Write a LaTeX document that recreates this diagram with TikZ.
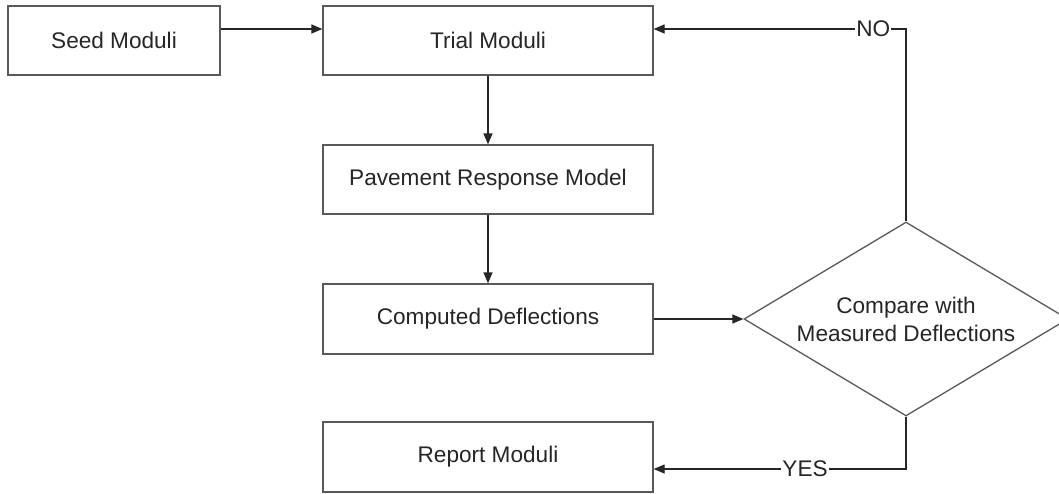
\documentclass[tikz,border=0pt]{standalone}
\usepackage{fontspec}
\setmainfont{Liberation Sans}
\usetikzlibrary{shapes.geometric,arrows.meta}
\begin{document}
\begin{tikzpicture}[x=1pt,y=-1pt,
 box/.style={draw=black!65,line width=1.3pt,minimum width=330pt,minimum height=69pt,inner sep=0pt,font=\fontsize{22.6}{28}\selectfont,text=black!85},
 conn/.style={draw=black!85,line width=1.3pt,-{Triangle[length=11pt,width=9pt]}},
 lbl/.style={fill=white,inner sep=1pt,font=\fontsize{22.6}{28}\selectfont,text=black!85},
 decision/.style={diamond,draw=black!65,line width=1.3pt,minimum width=324pt,minimum height=194pt,inner sep=0pt}]
\useasboundingbox (0,0) rectangle (1059,493);
\fill[white] (0,0) rectangle (1059,493);
\node[box,minimum width=212pt] (seed) at (114,40.5) {Seed Moduli};
\node[box] (trial) at (488,40.5) {Trial Moduli};
\node[box] (pave) at (488,179.5) {Pavement Response Model};
\node[box,minimum height=70pt] (comp) at (488,319) {Computed Deflections};
\node[box,minimum height=70pt] (report) at (488,457) {Report Moduli};
\node[decision] (cmp) at (906,319) {};
\node[font=\fontsize{22.6}{28}\selectfont,text=black!85,align=center] (cmptext) at (cmp) {Compare with\\Measured Deflections};
\draw[conn] ([yshift=11.5pt]seed.east) -- ([yshift=11.5pt]trial.west);
\draw[conn] (trial.south) -- (pave.north);
\draw[conn] (pave.south) -- (comp.north);
\draw[conn] (comp.east) -- (cmp.west);
\draw[conn] (cmp.north) |- node[lbl,pos=0.565] {NO} ([yshift=11.5pt]trial.east);
\draw[conn] (cmp.south) |- node[lbl,pos=0.7] {YES} ([yshift=-12pt]report.east);
\end{tikzpicture}
\end{document}
